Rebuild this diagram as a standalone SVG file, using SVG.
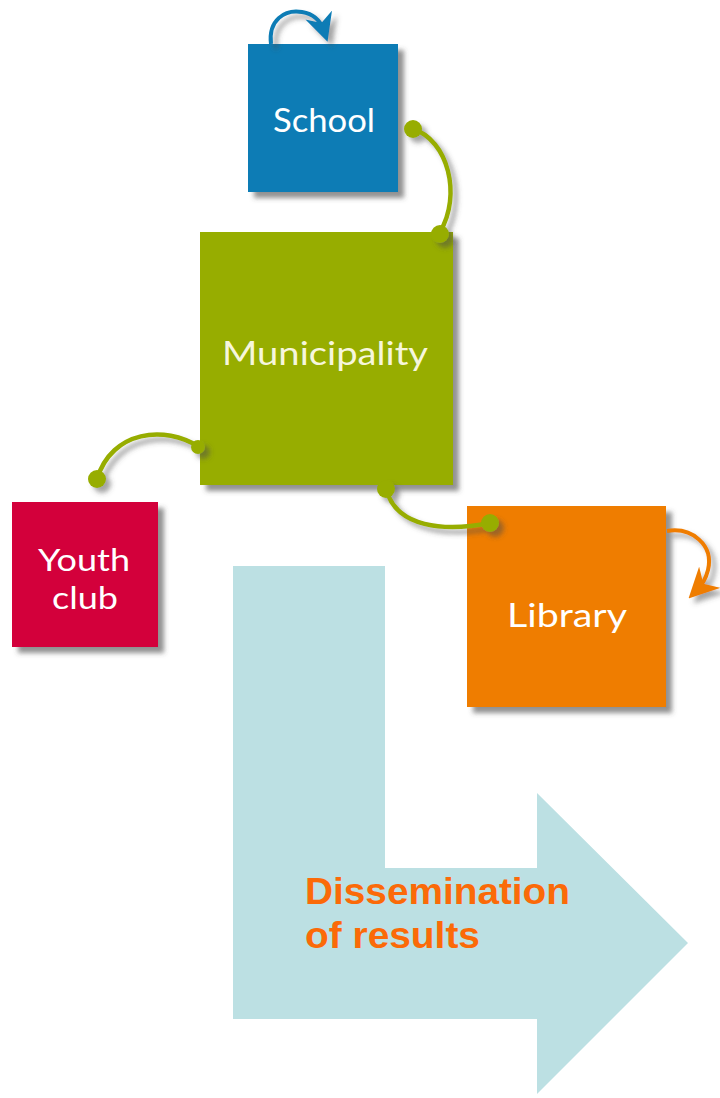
<svg xmlns="http://www.w3.org/2000/svg" width="720" height="1098" viewBox="0 0 720 1098">
<defs>
<filter id="sh" x="-20%" y="-20%" width="150%" height="150%">
<feDropShadow dx="6" dy="6" stdDeviation="2.5" flood-color="#4a4a4a" flood-opacity="0.6"/>
</filter>
<filter id="shc" x="-30%" y="-30%" width="170%" height="170%">
<feDropShadow dx="5" dy="5" stdDeviation="2.5" flood-color="#4a4a4a" flood-opacity="0.5"/>
</filter>
<marker id="ahBlue" viewBox="0 0 10 10" refX="6" refY="5" markerWidth="7" markerHeight="7" markerUnits="strokeWidth" orient="auto">
<path d="M0,0 L10,5 L0,10 L3,5 Z" fill="#0b7cb5"/>
</marker>
<marker id="ahOrange" viewBox="0 0 10 10" refX="6" refY="5" markerWidth="7.5" markerHeight="7.5" markerUnits="strokeWidth" orient="auto">
<path d="M0,0 L10,5 L0,10 L3,5 Z" fill="#ef7d00"/>
</marker>
</defs>
<style>
.lbl{font-family:Lato,"Noto Sans","DejaVu Sans",sans-serif;font-size:33px;text-anchor:middle;}
.con{fill:none;stroke:#97ad00;stroke-width:4.5;stroke-linecap:round;}
.dot{fill:#97ad00;}
.big{font-family:"Liberation Sans",Arial,sans-serif;font-weight:bold;font-size:37px;fill:#fb6a08;}
</style>
<rect width="720" height="1098" fill="#ffffff"/>

<g id="dissemination">
<path d="M233,566 L385,566 L385,868 L537,868 L537,793 L688,943 L537,1094 L537,1019 L233,1019 Z" fill="#bce0e3"/>
<text class="big" x="305" y="904" textLength="265" lengthAdjust="spacingAndGlyphs">Dissemination</text>
<text class="big" x="305" y="948" textLength="175" lengthAdjust="spacingAndGlyphs">of results</text>
</g>

<g id="school">
<rect x="248" y="44" width="150" height="148" fill="#0b7cb5" filter="url(#sh)"/>
<text class="lbl" x="324" y="132" fill="#ffffff" textLength="102" lengthAdjust="spacingAndGlyphs">School</text>
</g>

<g id="municipality">
<rect x="200" y="232" width="253" height="253" fill="#97ad00" filter="url(#sh)"/>
<text class="lbl" x="325" y="365" fill="#f6f6dc" textLength="206" lengthAdjust="spacingAndGlyphs">Municipality</text>
</g>

<g id="youth-club">
<rect x="12" y="502" width="146" height="145" fill="#d3003a" filter="url(#sh)"/>
<text class="lbl" x="84" y="571" fill="#ffffff" style="font-size:31px" textLength="92" lengthAdjust="spacingAndGlyphs">Youth</text>
<text class="lbl" x="85" y="609" fill="#ffffff" style="font-size:31px" textLength="66" lengthAdjust="spacingAndGlyphs">club</text>
</g>

<g id="library">
<rect x="467" y="506" width="199" height="201" fill="#ef7d00" filter="url(#sh)"/>
<text class="lbl" x="567" y="627" fill="#ffffff" textLength="120" lengthAdjust="spacingAndGlyphs">Library</text>
</g>

<g id="connectors" filter="url(#shc)">
<path class="con" d="M413,129 C448,140 462,195 440,232"/>
<circle class="dot" cx="413" cy="129" r="9"/>
<circle class="dot" cx="440" cy="234" r="9"/>
<path class="con" d="M97,479 C112,430 165,425 199,447"/>
<circle class="dot" cx="97" cy="479" r="9"/>
<circle class="dot" cx="198" cy="447" r="7"/>
<path class="con" d="M386,488 C395,528 445,532 490,523"/>
<circle class="dot" cx="386" cy="489" r="9"/>
<circle class="dot" cx="490" cy="523" r="9"/>
<path d="M271,44 C268,20 285,9 302,12 C315,14 321,22 324,31" fill="none" stroke="#0b7cb5" stroke-width="4" marker-end="url(#ahBlue)"/>
<path d="M667,531 C692,527 714,545 708,570 C706,578 702,585 697,590" fill="none" stroke="#ef7d00" stroke-width="4" marker-end="url(#ahOrange)"/>
</g>
</svg>
